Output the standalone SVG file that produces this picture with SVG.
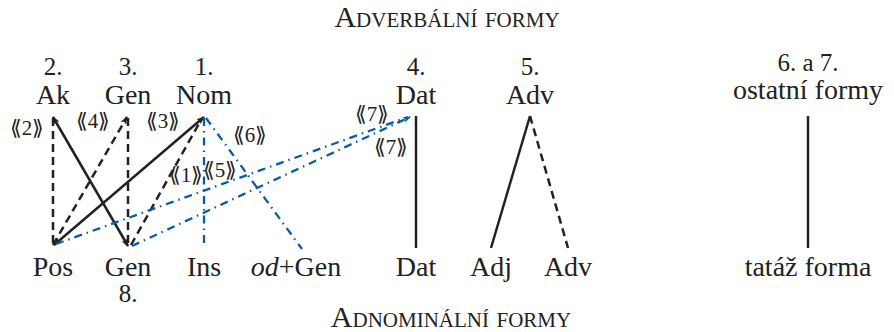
<svg xmlns="http://www.w3.org/2000/svg" width="894" height="332" viewBox="0 0 894 332">
<defs>
<style>
text{fill:#222;text-anchor:middle}
.t{font-size:30px;font-variant:small-caps}
.n{font-size:25px}
.m{font-size:28px}
.l{font-size:21px}
.s{stroke:#222;stroke-width:2.5;fill:none}
.d{stroke:#222;stroke-width:2.5;fill:none;stroke-dasharray:8 5}
.b{stroke:#0a5aa8;stroke-width:2.3;fill:none;stroke-dasharray:8 5 1.5 5}
</style>
<marker id="ah" viewBox="0 0 10 10" refX="9" refY="5" markerWidth="3.2" markerHeight="3.2" orient="auto-start-reverse" markerUnits="strokeWidth">
<path d="M0,1 L10,5 L0,9 L2,5 Z" fill="#222"/>
</marker>
<marker id="bh" viewBox="0 0 10 10" refX="9" refY="5" markerWidth="3.2" markerHeight="3.2" orient="auto" markerUnits="strokeWidth">
<path d="M0,1 L10,5 L0,9 L2,5 Z" fill="#0a5aa8"/>
</marker>
</defs>
<rect width="894" height="332" fill="#fff"/>
<g font-family="Liberation Serif, DejaVu Serif, serif">
<text class="t" x="447" y="27">Adverbální formy</text>
<text class="t" x="451" y="327">Adnominální formy</text>
<g id="connectors">
<line class="d" x1="53" y1="118" x2="53" y2="245"/>
<line class="s" x1="53" y1="117" x2="128" y2="246" marker-start="url(#ah)" marker-end="url(#ah)"/>
<line class="d" x1="53" y1="245" x2="127" y2="117" marker-end="url(#ah)"/>
<line class="d" x1="128" y1="118" x2="128" y2="245"/>
<line class="s" x1="204" y1="117" x2="54" y2="245" marker-start="url(#ah)" marker-end="url(#ah)"/>
<line class="d" x1="131" y1="245" x2="201" y2="120"/>
<line class="b" x1="204" y1="118" x2="204" y2="248"/>
<line class="b" x1="206" y1="118" x2="302" y2="249"/>
<line class="b" x1="56" y1="244" x2="408" y2="117"/>
<line class="b" x1="132" y1="246" x2="410" y2="117" marker-end="url(#bh)"/>
<line class="s" x1="416" y1="116" x2="416" y2="248"/>
<line class="s" x1="530" y1="116" x2="491" y2="248"/>
<line class="d" x1="530" y1="116" x2="568" y2="248"/>
<line class="s" x1="808" y1="116" x2="808" y2="248"/>
</g>
<g id="labels">
<text class="l" x="27" y="135">⟪2⟫</text>
<text class="l" x="93" y="128">⟪4⟫</text>
<text class="l" x="163" y="128">⟪3⟫</text>
<text class="l" x="250" y="142">⟪6⟫</text>
<text class="l" x="186" y="182">⟪1⟫</text>
<text class="l" x="220" y="177">⟪5⟫</text>
<text class="l" x="372" y="121">⟪7⟫</text>
<text class="l" x="391" y="154">⟪7⟫</text>
</g>
<g id="n-ak"><text class="n" x="53" y="75">2.</text><text class="m" x="53" y="104">Ak</text></g>
<g id="n-gen-top"><text class="n" x="128" y="75">3.</text><text class="m" x="128" y="104">Gen</text></g>
<g id="n-nom"><text class="n" x="204" y="75">1.</text><text class="m" x="204" y="104">Nom</text></g>
<g id="n-dat-top"><text class="n" x="416" y="75">4.</text><text class="m" x="416" y="104">Dat</text></g>
<g id="n-adv-top"><text class="n" x="530" y="75">5.</text><text class="m" x="530" y="104">Adv</text></g>
<g id="n-ostatni"><text class="n" x="808" y="71">6. a 7.</text><text class="m" x="808" y="99">ostatní formy</text></g>
<g id="n-pos"><text class="m" x="53" y="276">Pos</text></g>
<g id="n-gen-bot"><text class="m" x="128" y="276">Gen</text><text class="n" x="128" y="302">8.</text></g>
<g id="n-ins"><text class="m" x="204" y="276">Ins</text></g>
<g id="n-odgen"><text class="m" x="296" y="276"><tspan font-style="italic">od</tspan>+Gen</text></g>
<g id="n-dat-bot"><text class="m" x="416" y="276">Dat</text></g>
<g id="n-adj"><text class="m" x="491" y="276">Adj</text></g>
<g id="n-adv-bot"><text class="m" x="568" y="276">Adv</text></g>
<g id="n-tataz"><text class="m" x="808" y="276">tatáž forma</text></g>
</g>
</svg>
